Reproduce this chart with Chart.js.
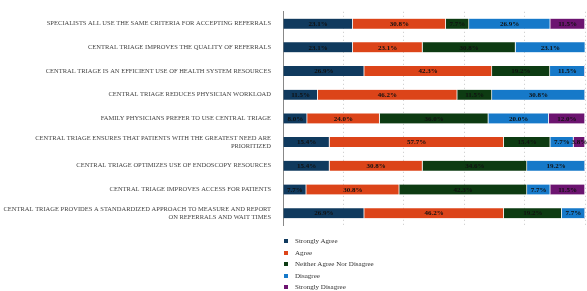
<!DOCTYPE html>
<html>
<head>
<meta charset="utf-8">
<script src="https://cdn.jsdelivr.net/npm/chart.js@4"></script>
<style>
  html, body { margin: 0; padding: 0; background: #fff; }
  #wrap { position: relative; width: 587px; height: 291px; }
  #legend { position: absolute; left: 284px; top: 236px; font-family: 'Liberation Serif', serif; font-size: 7px; color: #333; }
  #legend div { height: 11.5px; line-height: 11.5px; white-space: nowrap; }
  #legend span.box { display: inline-block; width: 4px; height: 4px; margin-right: 7px; vertical-align: middle; }
</style>
</head>
<body>
<div id="wrap">
  <canvas id="grafic" width="587" height="291"></canvas>
  <div id="legend"></div>
</div>
<script>
let context = document.getElementById('grafic').getContext('2d');

const statements = [
    'SPECIALISTS ALL USE THE SAME CRITERIA FOR ACCEPTING REFERRALS',
    'CENTRAL TRIAGE IMPROVES THE QUALITY OF REFERRALS',
    'CENTRAL TRIAGE IS AN EFFICIENT USE OF HEALTH SYSTEM RESOURCES',
    'CENTRAL TRIAGE REDUCES PHYSICIAN WORKLOAD',
    'FAMILY PHYSICIANS PREFER TO USE CENTRAL TRIAGE',
    ['CENTRAL TRIAGE ENSURES THAT PATIENTS WITH THE GREATEST NEED ARE', 'PRIORITIZED'],
    'CENTRAL TRIAGE OPTIMIZES USE OF ENDOSCOPY RESOURCES',
    'CENTRAL TRIAGE IMPROVES ACCESS FOR PATIENTS',
    ['CENTRAL TRIAGE PROVIDES A STANDARDIZED APPROACH TO MEASURE AND REPORT', 'ON REFERRALS AND WAIT TIMES']
];

const stronglyAgree    = [23.1, 23.1, 26.9, 11.5, 8.0, 15.4, 15.4, 7.7, 26.9];
const agree            = [30.8, 23.1, 42.3, 46.2, 24.0, 57.7, 30.8, 30.8, 46.2];
const neither          = [7.7, 30.8, 19.2, 11.5, 36.0, 15.4, 34.6, 42.3, 19.2];
const disagree         = [26.9, 23.1, 11.5, 30.8, 20.0, 7.7, 19.2, 7.7, 7.7];
const stronglyDisagree = [11.5, 0, 0, 0, 12.0, 3.8, 0, 11.5, 0];

const seriesNames = ['Strongly Agree', 'Agree', 'Neither Agree Nor Disagree', 'Disagree', 'Strongly Disagree'];
const seriesColors = ['#103a5e', '#dc4419', '#0d3b12', '#1679c9', '#6c1470'];
const seriesData = [stronglyAgree, agree, neither, disagree, stronglyDisagree];

// percent labels in the middle of each segment
const segmentLabels = {
    id: 'segmentLabels',
    afterDatasetsDraw(chart) {
        const ctx = chart.ctx;
        ctx.save();
        ctx.font = 'bold 7px "Liberation Serif", serif';
        ctx.fillStyle = '#111';
        ctx.textAlign = 'center';
        ctx.textBaseline = 'middle';
        chart.data.datasets.forEach((ds, i) => {
            chart.getDatasetMeta(i).data.forEach((bar, j) => {
                const v = ds.data[j];
                if (!v) return;
                const p = bar.getProps(['x', 'y', 'base'], true);
                ctx.fillText(v.toFixed(1) + '%', (p.x + p.base) / 2, p.y + 0.5);
            });
        });
        ctx.restore();
    }
};

new Chart(context, {
    type: 'bar',
    data: {
        labels: statements,
        datasets: seriesData.map((d, i) => ({
            label: seriesNames[i],
            data: d,
            backgroundColor: seriesColors[i],
            borderColor: 'rgba(255,255,255,0.7)',
            borderWidth: { right: 1 },
            borderSkipped: false,
            barThickness: 10
        }))
    },
    options: {
        indexAxis: 'y',
        responsive: false,
        animation: false,
        layout: { padding: { top: 0, right: 2, bottom: 66, left: 0 } },
        plugins: {
            legend: { display: false },
            tooltip: { enabled: false }
        },
        scales: {
            x: {
                stacked: true,
                min: 0,
                max: 100,
                ticks: { display: false, stepSize: 20 },
                grid: {
                    color: '#c8c8c8',
                    drawTicks: false
                },
                border: { display: false, dash: [1, 3] }
            },
            y: {
                stacked: true,
                afterFit: scale => { scale.width = 283; },
                ticks: {
                    color: '#444',
                    padding: 4,
                    font: { family: '"Liberation Serif", serif', size: 6.5 }
                },
                grid: { display: false },
                border: { color: '#888' }
            }
        }
    },
    plugins: [segmentLabels]
});

// legend as html, stacked vertically
const legend = document.getElementById('legend');
seriesNames.forEach((name, i) => {
    const row = document.createElement('div');
    row.innerHTML = '<span class="box" style="background:' + seriesColors[i] + '"></span>' + name;
    legend.appendChild(row);
});
</script>
</body>
</html>
